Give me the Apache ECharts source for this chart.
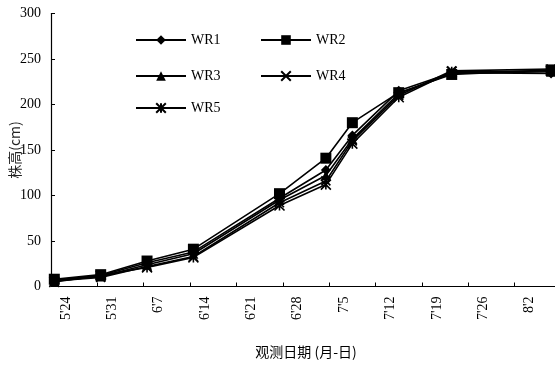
<!DOCTYPE html>
<html>
<head>
<meta charset="utf-8">
<script src="https://cdn.jsdelivr.net/npm/echarts@6/dist/echarts.min.js"></script>
<style>
  html, body { margin: 0; padding: 0; background: #fff; }
  #chart { width: 555px; height: 365px; }
</style>
</head>
<body>
<div id="chart"></div>
<script>
// Observation dates (month-day) and plant height (cm) for each treatment
const obsDates = ['5-24', '5-31', '6-7', '6-14', '6-27', '7-4', '7-8', '7-15', '7-23', '8-7'];
const WR1 = [7, 12, 26, 38, 97, 128, 166, 215, 235, 234];
const WR2 = [8, 13, 28, 41, 102, 141, 180, 213, 233, 238];
const WR3 = [6, 11, 24, 36, 95, 122, 162, 212, 234, 236];
const WR4 = [6, 10, 22, 33, 92, 116, 160, 210, 237, 239];
const WR5 = [5, 12, 21, 32, 89, 112, 157, 208, 236, 237];

const YEAR = 2020;
const START = new Date(YEAR, 4, 24);
const DAY = 86400000;

// day offset from the first observation
function dayOffset(md) {
  const [m, d] = md.split('-').map(Number);
  return Math.round((new Date(YEAR, m - 1, d) - START) / DAY);
}
function dayLabel(v) {
  const dt = new Date(START.getTime() + Math.round(v) * DAY);
  return (dt.getMonth() + 1) + "'" + dt.getDate();
}

// date axis: each day is plotted in the centre of its one-day slot
const xs = obsDates.map(d => dayOffset(d) + 0.5);
const pairs = arr => arr.map((v, i) => [xs[i], v]);

const serif = '"Liberation Serif", "Times New Roman", serif';
const cjk = '"Noto Sans CJK SC", sans-serif';

const crossPath = 'path://M0 0L10 10M10 0L0 10';
const starPath = 'path://M0 0L10 10M10 0L0 10M5 0L5 10';

const seriesDefs = [
  { name: 'WR1', data: WR1, symbol: 'diamond', size: 10, stroke: 0 },
  { name: 'WR2', data: WR2, symbol: 'rect', size: 11, stroke: 0 },
  { name: 'WR3', data: WR3, symbol: 'triangle', size: 10, stroke: 0 },
  { name: 'WR4', data: WR4, symbol: crossPath, size: 9, stroke: 1.6 },
  { name: 'WR5', data: WR5, symbol: starPath, size: 10, stroke: 1.6 }
];

const legendPos = [
  { left: 135, top: 33 },
  { left: 260, top: 33 },
  { left: 135, top: 69 },
  { left: 260, top: 69 },
  { left: 135, top: 101 }
];

const chart = echarts.init(document.getElementById('chart'), null, { renderer: 'canvas' });

chart.setOption({
  animation: false,
  backgroundColor: '#fff',
  grid: { left: 51, right: -6, top: 13.5, bottom: 78.5, containLabel: false, outerBoundsMode: 'none' },
  legend: seriesDefs.map((s, i) => ({
    data: [s.name],
    left: legendPos[i].left,
    top: legendPos[i].top,
    padding: 0,
    itemWidth: 50,
    itemHeight: 12,
    itemGap: 4,
    selectedMode: false,
    textStyle: { fontFamily: serif, fontSize: 14, color: '#000' }
  })),
  xAxis: {
    type: 'value',
    min: 0,
    max: 77,
    interval: 7,
    name: '观测日期 (月-日)',
    nameLocation: 'middle',
    nameGap: 58,
    nameMoveOverlap: false,
    nameTextStyle: { fontFamily: cjk, fontSize: 14, color: '#000' },
    axisLine: { show: true, lineStyle: { color: '#000', width: 1.2 } },
    axisTick: { show: true, inside: true, length: 4, lineStyle: { color: '#000' } },
    splitLine: { show: false },
    axisLabel: {
      rotate: 90,
      margin: 10,
      fontFamily: serif,
      fontSize: 14,
      color: '#000',
      // blank leading line pushes the rotated date text to the right of its tick
      formatter: v => '{gap| }\n{t|' + dayLabel(v) + '}',
      rich: {
        gap: { lineHeight: 30, fontSize: 14 },
        t: { lineHeight: 14, fontFamily: serif, fontSize: 14, color: '#000' }
      }
    }
  },
  yAxis: {
    type: 'value',
    min: 0,
    max: 300,
    interval: 50,
    name: '株高(cm)',
    nameLocation: 'middle',
    nameGap: 29,
    nameMoveOverlap: false,
    nameTextStyle: { fontFamily: cjk, fontSize: 14, color: '#222' },
    axisLine: { show: true, lineStyle: { color: '#000', width: 1.2 } },
    axisTick: { show: true, inside: true, length: 4, lineStyle: { color: '#000' } },
    splitLine: { show: false },
    axisLabel: { margin: 10, fontFamily: serif, fontSize: 14, color: '#000' }
  },
  series: seriesDefs.map(s => ({
    name: s.name,
    type: 'line',
    data: pairs(s.data),
    symbol: s.symbol,
    symbolSize: s.size,
    showSymbol: true,
    lineStyle: { color: '#000', width: 1.6 },
    itemStyle: { color: '#000', borderColor: '#000', borderWidth: s.stroke },
    emphasis: { disabled: true }
  }))
});
</script>
</body>
</html>
